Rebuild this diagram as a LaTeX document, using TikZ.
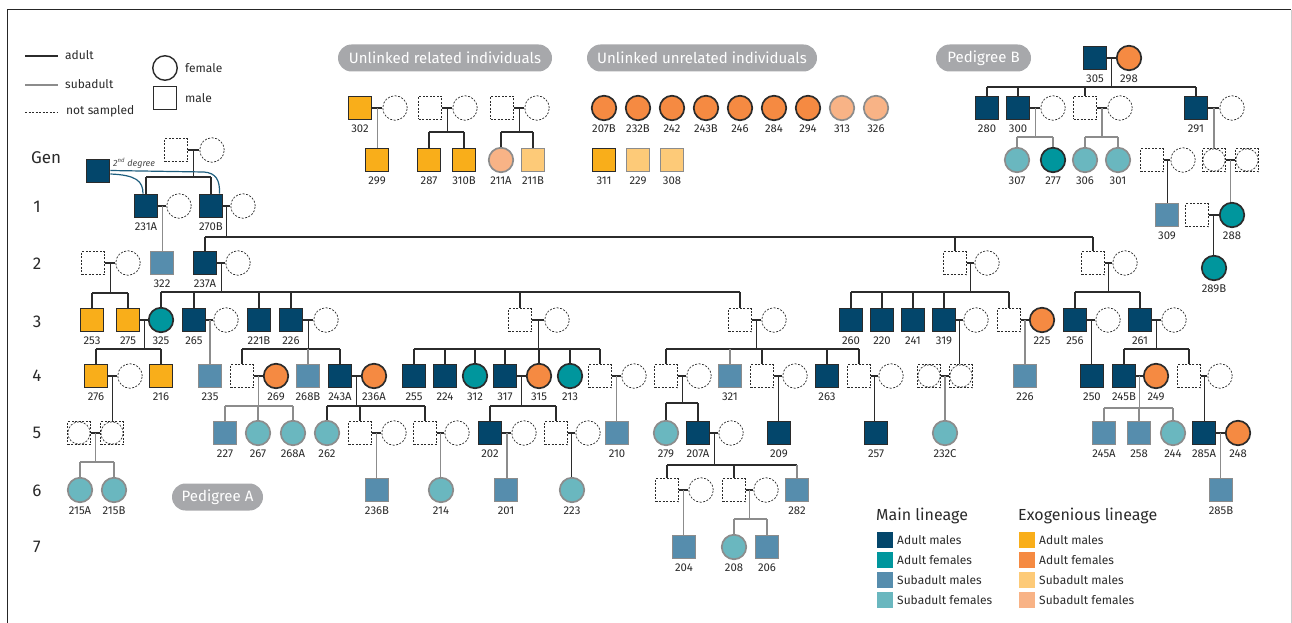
\documentclass[tikz,border=0pt]{standalone}
\usepackage{fontspec}
\setmainfont{Fira Sans}
\usetikzlibrary{calc}
\definecolor{amC}{HTML}{03466B}
\definecolor{afC}{HTML}{00969D}
\definecolor{smC}{HTML}{568DAD}
\definecolor{sfC}{HTML}{6AB7BF}
\definecolor{xamC}{HTML}{F9AE1A}
\definecolor{xafC}{HTML}{F58A42}
\definecolor{xsmC}{HTML}{FDCA78}
\definecolor{xsfC}{HTML}{F8B386}
\definecolor{pillC}{HTML}{A7A8AB}
\definecolor{adl}{HTML}{2B2B2B}
\definecolor{sbl}{HTML}{8C8C8C}
\definecolor{txt}{HTML}{2A2A2A}
\definecolor{curveC}{HTML}{1E5E7E}
\tikzset{
  sq/.style={rectangle,minimum size=23pt,inner sep=0pt},
  ci/.style={circle,minimum size=24.5pt,inner sep=0pt},
  adultout/.style={draw=adl,line width=1.7pt},
  subout/.style={draw=sbl,line width=1.7pt},
  am/.style={sq,adultout,fill=amC},
  af/.style={ci,adultout,fill=afC},
  sm/.style={sq,subout,fill=smC},
  sf/.style={ci,subout,fill=sfC},
  xam/.style={sq,adultout,fill=xamC},
  xaf/.style={ci,adultout,fill=xafC},
  xsm/.style={sq,subout,fill=xsmC},
  xsf/.style={ci,subout,fill=xsfC},
  dsh/.style={draw=adl,line width=0.7pt,dash pattern=on 2pt off 1.5pt},
  um/.style={sq,dsh},
  uf/.style={ci,dsh},
  uu/.style={sq,dsh,path picture={\draw[dsh] (path picture bounding box.center) circle (11.2pt);}},
  al/.style={draw=adl,line width=1.1pt},
  gl/.style={draw=sbl,line width=1.5pt},
  lab/.style={font=\fontsize{11.3}{13}\selectfont,text=txt,inner sep=0pt},
  legtxt/.style={font=\fontsize{12}{14}\selectfont,text=txt,inner sep=0pt,anchor=west},
  gentxt/.style={font=\fontsize{17}{20}\selectfont,text=txt,inner sep=0pt},
  head/.style={font=\fontsize{16}{19}\selectfont,text=txt,inner sep=0pt,anchor=west},
  pill/.style={fill=pillC,text=white,rounded corners=13.5pt,minimum height=27pt,inner sep=0pt,font=\fontsize{15}{18}\selectfont},
  legsq/.style={rectangle,minimum size=16pt,inner sep=0pt},
  curve/.style={draw=curveC,line width=1.2pt},
}
\newcommand\pind[5]{\node[#1] (#2) at (#3,-#4) {}; \node[lab] (#2-l) at (#3,-#4-20.5) {#5};}
\newcommand\unode[4]{\node[#1] (#2) at (#3,-#4) {};}
\newcommand\mate[4]{\draw[#1] (#2.east) -- (#3.west); \coordinate (#4) at ($(#2.east)!.5!(#3.west)$);}
\newcommand\dropto[3]{\draw[#1] (#2) -- (#2 |- #3.north);}
\newcommand\sibline[5]{\draw[#1] (#2) -- (#2 |- #3); \draw[#1] (#4.north |- #3) -- (#5.north |- #3);}
\newcommand\kidline[3]{\draw[#1] (#3.north) -- (#3.north |- #2);}
\begin{document}
\begin{tikzpicture}[x=1pt,y=1pt]
\useasboundingbox (0,0) rectangle (1292,-623);
% frame
\draw[draw=black!85,line width=1pt] (7,-640) -- (7,-10) -- (1291,-10);
\draw[draw=black!20,line width=0.8pt] (1291,-10) -- (1291,-640);
% levels
\foreach \yy in {87,132,137,177,237,292,293,349,403,406,408,462,465,519}{\coordinate (Y\yy) at (0,-\yy);}
% top-left legend
\draw[draw=adl,line width=2pt] (25,-56) -- (58,-56);
\node[legtxt] at (65,-55) {adult};
\draw[draw=sbl,line width=2pt] (25,-85) -- (58,-85);
\node[legtxt] at (65,-84) {subadult};
\draw[dsh] (25,-112) -- (58,-112);
\node[legtxt] at (66,-111) {not sampled};
\node[ci,draw=adl,line width=1.4pt] (lgf) at (165,-68) {};
\node[legtxt] at (185,-68) {female};
\node[sq,draw=adl,line width=1.4pt] (lgm) at (165,-98) {};
\node[legtxt] at (185,-98) {male};
% generation labels
\node[gentxt] at (46,-158) {Gen};
\node[gentxt] at (37,-207) {1};
\node[gentxt] at (37,-264) {2};
\node[gentxt] at (37,-322) {3};
\node[gentxt] at (37,-376) {4};
\node[gentxt] at (37,-433) {5};
\node[gentxt] at (37,-491) {6};
\node[gentxt] at (37,-547) {7};
% pills
\node[pill,minimum width=214pt] at (445,-58) {Unlinked related individuals};
\node[pill,minimum width=230pt] at (702,-58) {Unlinked unrelated individuals};
\node[pill,minimum width=95pt] at (983.5,-58) {Pedigree B};
\node[pill,minimum width=91pt] at (217.5,-497) {Pedigree A};
% ===== unlinked related
\pind{xam}{n302}{360}{108}{302} \unode{uf}{f302}{395}{108}
\pind{xam}{n299}{377}{160}{299}
\unode{um}{m1a}{430}{108} \unode{uf}{f1a}{465}{108}
\pind{xam}{n287}{429}{160}{287} \pind{xam}{n310B}{464}{160}{310B}
\unode{um}{m1b}{502}{108} \unode{uf}{f1b}{537}{108}
\pind{xsf}{n211A}{501}{160}{211A} \pind{xsm}{n211B}{533}{160}{211B}
% ===== unlinked unrelated
\pind{xaf}{n207B}{604}{108}{207B} \pind{xaf}{n232B}{638}{108}{232B}
\pind{xaf}{n242}{672}{108}{242} \pind{xaf}{n243B}{706}{108}{243B}
\pind{xaf}{n246}{740}{108}{246} \pind{xaf}{n284}{774}{108}{284}
\pind{xaf}{n294}{808}{108}{294} \pind{xsf}{n313}{842}{108}{313}
\pind{xsf}{n326}{876}{108}{326}
\pind{xam}{n311}{604}{160}{311} \pind{xsm}{n229}{638}{160}{229} \pind{xsm}{n308}{672}{160}{308}
% ===== Pedigree B
\pind{am}{n305}{1095}{58}{305} \pind{xaf}{n298}{1129}{58}{298}
\pind{am}{n280}{987}{108}{280} \pind{am}{n300}{1018}{108}{300} \unode{uf}{f300}{1053}{108}
\unode{um}{mB1}{1085}{108} \unode{uf}{fB1}{1120}{108}
\pind{am}{n291}{1196}{108}{291} \unode{uf}{f291}{1232}{108}
\pind{sf}{n307}{1017}{160}{307} \pind{af}{n277}{1053}{160}{277}
\pind{sf}{n306}{1085}{160}{306} \pind{sf}{n301}{1118}{160}{301}
\unode{um}{mB2}{1152}{160} \unode{uf}{fB2}{1183}{160}
\unode{uu}{uB1}{1214}{160} \unode{uu}{uB2}{1247}{160}
\pind{sm}{n309}{1167}{215}{309}
\unode{um}{mB3}{1197}{215} \pind{af}{n288}{1232}{215}{288}
\pind{af}{n289B}{1214}{268}{289B}
% ===== Pedigree A
\node[am] (g0) at (98,-171) {};
\node[font=\itshape\fontsize{9}{10}\selectfont,text=txt!85,anchor=west,inner sep=0pt] (g0l) at (113,-163) {2\textsuperscript{nd} degree};
\unode{um}{p0m}{176}{150} \unode{uf}{p0f}{212}{150}
\pind{am}{n231A}{146}{206}{231A} \unode{uf}{f231A}{179}{206}
\pind{am}{n270B}{211}{206}{270B} \unode{uf}{f270B}{243}{206}
% gen2
\unode{um}{m2a}{93}{263} \unode{uf}{f2a}{128}{263}
\pind{sm}{n322}{162}{263}{322}
\pind{am}{n237A}{205}{263}{237A} \unode{uf}{f237A}{238}{263}
\unode{um}{m2b}{955}{263} \unode{uf}{f2b}{987}{263}
\unode{um}{m2c}{1093}{263} \unode{uf}{f2c}{1125}{263}
% gen3
\pind{xam}{n253}{92}{320}{253} \pind{xam}{n275}{128}{320}{275} \pind{af}{n325}{161}{320}{325}
\pind{am}{n265}{194}{320}{265} \unode{uf}{f265}{226}{320}
\pind{am}{n221B}{259}{320}{221B}
\pind{am}{n226}{291}{320}{226} \unode{uf}{f226}{326}{320}
\unode{um}{m3a}{520}{320} \unode{uf}{f3a}{557}{320}
\unode{um}{m3b}{740}{320} \unode{uf}{f3b}{774}{320}
\pind{am}{n260}{851}{320}{260} \pind{am}{n220}{882}{320}{220}
\pind{am}{n241}{913}{320}{241} \pind{am}{n319}{944}{320}{319} \unode{uf}{f319}{976}{320}
\unode{um}{m3c}{1009}{320} \pind{xaf}{n225}{1042}{320}{225}
\pind{am}{n256}{1075}{320}{256} \unode{uf}{f256}{1108}{320}
\pind{am}{n261}{1140}{320}{261} \unode{uf}{f261}{1174}{320}
% gen4
\pind{xam}{n276}{96}{376}{276} \unode{uf}{f276}{130}{376}
\pind{xam}{n216}{161}{376}{216}
\pind{sm}{n235}{210}{376}{235}
\unode{um}{m4a}{242}{376} \pind{xaf}{n269}{276}{376}{269}
\pind{sm}{n268B}{308}{376}{268B}
\pind{am}{n243A}{340}{376}{243A} \pind{xaf}{n236A}{374}{376}{236A}
\pind{am}{n255}{414}{376}{255} \pind{am}{n224}{445}{376}{224}
\pind{af}{n312}{475}{376}{312} \pind{am}{n317}{505}{376}{317}
\pind{xaf}{n315}{539}{376}{315} \pind{af}{n213}{570}{376}{213}
\unode{um}{m4b}{600}{376} \unode{uf}{f4b}{634}{376}
\unode{um}{m4c}{666}{376} \unode{uf}{f4c}{699}{376}
\pind{sm}{n321}{730}{376}{321}
\unode{um}{m4d}{762}{376} \unode{uf}{f4d}{795}{376}
\pind{am}{n263}{827}{376}{263}
\unode{um}{m4e}{859}{376} \unode{uf}{f4e}{891}{376}
\unode{uu}{u4a}{929}{376} \unode{uu}{u4b}{961}{376}
\pind{sm}{n226s}{1025}{376}{226}
\pind{am}{n250}{1092}{376}{250}
\pind{am}{n245B}{1124}{376}{245B} \pind{xaf}{n249}{1156}{376}{249}
\unode{um}{m4f}{1189}{376} \unode{uf}{f4f}{1220}{376}
% gen5
\unode{uu}{u5a}{79}{433} \unode{uu}{u5b}{112}{433}
\pind{sm}{n227}{225}{433}{227} \pind{sf}{n267}{258}{433}{267} \pind{sf}{n268A}{293}{433}{268A}
\pind{sf}{n262}{327}{433}{262}
\unode{um}{m5a}{360}{433} \unode{uf}{f5a}{394}{433}
\unode{um}{m5b}{425}{433} \unode{uf}{f5b}{457}{433}
\pind{am}{n202}{490}{433}{202} \unode{uf}{f202}{524}{433}
\unode{um}{m5c}{556}{433} \unode{uf}{f5c}{588}{433}
\pind{sm}{n210}{617}{433}{210}
\pind{sf}{n279}{666}{433}{279} \pind{am}{n207A}{698}{433}{207A} \unode{uf}{f207A}{731}{433}
\pind{am}{n209}{779}{433}{209}
\pind{am}{n257}{876}{433}{257}
\pind{sf}{n232C}{945}{433}{232C}
\pind{sm}{n245A}{1104}{433}{245A} \pind{sm}{n258}{1139}{433}{258} \pind{sf}{n244}{1173}{433}{244}
\pind{am}{n285A}{1204}{433}{285A} \pind{xaf}{n248}{1238}{433}{248}
% gen6
\pind{sf}{n215A}{80}{490}{215A} \pind{sf}{n215B}{114}{490}{215B}
\pind{sm}{n236B}{377}{490}{236B} \pind{sf}{n214}{441}{490}{214}
\pind{sm}{n201}{506}{490}{201} \pind{sf}{n223}{572}{490}{223}
\unode{um}{m6a}{667}{490} \unode{uf}{f6a}{701}{490}
\unode{um}{m6b}{734}{490} \unode{uf}{f6b}{766}{490}
\pind{sm}{n282}{797}{490}{282}
\pind{sm}{n285B}{1221}{490}{285B}
% gen7
\pind{sm}{n204}{684}{547}{204} \pind{sf}{n208}{734}{547}{208} \pind{sm}{n206}{767}{547}{206}
% ===== connectors: unlinked related
\mate{al}{n302}{f302}{c302} \dropto{gl}{c302}{n299}
\mate{al}{m1a}{f1a}{c1a} \sibline{al}{c1a}{Y132}{n287}{n310B}
\kidline{al}{Y132}{n287} \kidline{al}{Y132}{n310B}
\mate{al}{m1b}{f1b}{c1b} \sibline{al}{c1b}{Y132}{n211A}{n211B}
\kidline{al}{Y132}{n211A} \kidline{al}{Y132}{n211B}
% ===== connectors: pedigree B
\mate{al}{n305}{n298}{c305} \sibline{al}{c305}{Y87}{n280}{n291}
\foreach \k in {n280,n300,mB1,n291}{\kidline{al}{Y87}{\k}}
\mate{al}{n300}{f300}{c300} \sibline{gl}{c300}{Y137}{n307}{n277}
\kidline{gl}{Y137}{n307} \kidline{gl}{Y137}{n277}
\mate{al}{mB1}{fB1}{cB1} \sibline{gl}{cB1}{Y137}{n306}{n301}
\kidline{gl}{Y137}{n306} \kidline{gl}{Y137}{n301}
\mate{al}{n291}{f291}{c291} \dropto{gl}{c291}{uB1}
\mate{al}{mB2}{fB2}{cB2} \dropto{al}{cB2}{n309}
\mate{al}{uB1}{uB2}{cBu} \dropto{gl}{cBu}{n288}
\mate{al}{mB3}{n288}{cB3} \dropto{al}{cB3}{n289B}
% ===== connectors: pedigree A
\mate{al}{p0m}{p0f}{c0} \sibline{al}{c0}{Y177}{n231A}{n270B}
\kidline{al}{Y177}{n231A} \kidline{al}{Y177}{n270B}
\draw[curve] ($(g0.east)+(0,-3)$) .. controls (136,-175) and (143,-181) .. ($(n231A.north)+(-3,0)$);
\draw[curve] ($(g0.east)+(0,0.5)$) -- (204,-172) .. controls (216,-173) and (220,-180) .. ($(n270B.north)+(8.5,0)$);
\mate{al}{n231A}{f231A}{c231A} \dropto{gl}{c231A}{n322}
\mate{al}{n270B}{f270B}{c270B} \sibline{al}{c270B}{Y237}{n237A}{m2c}
\foreach \k in {n237A,m2b,m2c}{\kidline{al}{Y237}{\k}}
\mate{al}{m2a}{f2a}{c2a} \sibline{al}{c2a}{Y293}{n253}{n275}
\kidline{al}{Y293}{n253} \kidline{al}{Y293}{n275}
\mate{al}{n237A}{f237A}{c237A} \sibline{al}{c237A}{Y292}{n325}{m3b}
\foreach \k in {n325,n265,n221B,n226,m3a,m3b}{\kidline{al}{Y292}{\k}}
\mate{al}{m2b}{f2b}{c2b} \sibline{al}{c2b}{Y292}{n260}{m3c}
\foreach \k in {n260,n220,n241,n319,m3c}{\kidline{al}{Y292}{\k}}
\mate{al}{m2c}{f2c}{c2c} \sibline{al}{c2c}{Y292}{n256}{n261}
\kidline{al}{Y292}{n256} \kidline{al}{Y292}{n261}
\mate{al}{n275}{n325}{c275} \sibline{al}{c275}{Y349}{n276}{n216}
\kidline{al}{Y349}{n276} \kidline{al}{Y349}{n216}
\mate{al}{n265}{f265}{c265} \dropto{gl}{c265}{n235}
\mate{al}{n226}{f226}{c226} \sibline{al}{c226}{Y349}{m4a}{n243A}
\kidline{al}{Y349}{m4a} \kidline{gl}{Y349}{n268B} \kidline{al}{Y349}{n243A}
\mate{al}{m3a}{f3a}{c3a} \sibline{al}{c3a}{Y349}{n255}{m4b}
\foreach \k in {n255,n224,n312,n317,n315,n213,m4b}{\kidline{al}{Y349}{\k}}
\mate{al}{m3b}{f3b}{c3b} \sibline{al}{c3b}{Y349}{m4c}{m4e}
\foreach \k in {m4c,m4d,n263,m4e}{\kidline{al}{Y349}{\k}}
\kidline{gl}{Y349}{n321}
\mate{al}{n319}{f319}{c319} \dropto{al}{c319}{u4b}
\mate{al}{m3c}{n225}{c3c} \dropto{gl}{c3c}{n226s}
\mate{al}{n256}{f256}{c256} \dropto{al}{c256}{n250}
\mate{al}{n261}{f261}{c261} \sibline{al}{c261}{Y349}{n245B}{m4f}
\kidline{al}{Y349}{n245B} \kidline{al}{Y349}{m4f}
\mate{al}{n276}{f276}{c276} \dropto{al}{c276}{u5b}
\mate{al}{m4a}{n269}{c4a} \sibline{gl}{c4a}{Y406}{n227}{n268A}
\foreach \k in {n227,n267,n268A}{\kidline{gl}{Y406}{\k}}
\mate{al}{n243A}{n236A}{c243A} \sibline{al}{c243A}{Y406}{n262}{m5b}
\kidline{al}{Y406}{n262} \kidline{al}{Y406}{m5a} \kidline{al}{Y406}{m5b}
\mate{al}{n317}{n315}{c317} \sibline{al}{c317}{Y406}{n202}{m5c}
\kidline{al}{Y406}{n202} \kidline{al}{Y406}{m5c}
\mate{al}{m4b}{f4b}{c4b} \dropto{gl}{c4b}{n210}
\mate{al}{m4c}{f4c}{c4c} \sibline{al}{c4c}{Y403}{n279}{n207A}
\kidline{al}{Y403}{n279} \kidline{al}{Y403}{n207A}
\mate{al}{m4d}{f4d}{c4d} \dropto{al}{c4d}{n209}
\mate{al}{m4e}{f4e}{c4e} \dropto{al}{c4e}{n257}
\mate{al}{u4a}{u4b}{c4u} \dropto{gl}{c4u}{n232C}
\mate{al}{n245B}{n249}{c245B} \sibline{gl}{c245B}{Y408}{n245A}{n244}
\foreach \k in {n245A,n258,n244}{\kidline{gl}{Y408}{\k}}
\mate{al}{m4f}{f4f}{c4f} \dropto{al}{c4f}{n285A}
\mate{al}{u5a}{u5b}{c5u} \sibline{gl}{c5u}{Y462}{n215A}{n215B}
\kidline{gl}{Y462}{n215A} \kidline{gl}{Y462}{n215B}
\mate{al}{m5a}{f5a}{c5a} \dropto{gl}{c5a}{n236B}
\mate{al}{m5b}{f5b}{c5b} \dropto{gl}{c5b}{n214}
\mate{al}{n202}{f202}{c202} \dropto{gl}{c202}{n201}
\mate{al}{m5c}{f5c}{c5c} \dropto{al}{c5c}{n223}
\mate{al}{n207A}{f207A}{c207A} \sibline{al}{c207A}{Y465}{m6a}{n282}
\kidline{al}{Y465}{m6a} \kidline{al}{Y465}{m6b} \kidline{gl}{Y465}{n282}
\mate{al}{n285A}{n248}{c285A} \dropto{gl}{c285A}{n285B}
\mate{al}{m6a}{f6a}{c6a} \dropto{gl}{c6a}{n204}
\mate{al}{m6b}{f6b}{c6b} \sibline{gl}{c6b}{Y519}{n208}{n206}
\kidline{gl}{Y519}{n208} \kidline{gl}{Y519}{n206}
% ===== bottom legend
\node[head] (hm) at (876,-516) {Main lineage};
\node[legsq,fill=amC] (k1) at (885,-540) {}; \node[legtxt] at (897,-540) {Adult males};
\node[legsq,fill=afC] (k2) at (885,-560) {}; \node[legtxt] at (897,-560) {Adult females};
\node[legsq,fill=smC] (k3) at (885,-580) {}; \node[legtxt] at (897,-580) {Subadult males};
\node[legsq,fill=sfC] (k4) at (885,-600) {}; \node[legtxt] at (897,-600) {Subadult females};
\node[head] (hx) at (1018,-516) {Exogenious lineage};
\node[legsq,fill=xamC] (k5) at (1027,-540) {}; \node[legtxt] at (1039,-540) {Adult males};
\node[legsq,fill=xafC] (k6) at (1027,-560) {}; \node[legtxt] at (1039,-560) {Adult females};
\node[legsq,fill=xsmC] (k7) at (1027,-580) {}; \node[legtxt] at (1039,-580) {Subadult males};
\node[legsq,fill=xsfC] (k8) at (1027,-600) {}; \node[legtxt] at (1039,-600) {Subadult females};
\end{tikzpicture}
\end{document}
